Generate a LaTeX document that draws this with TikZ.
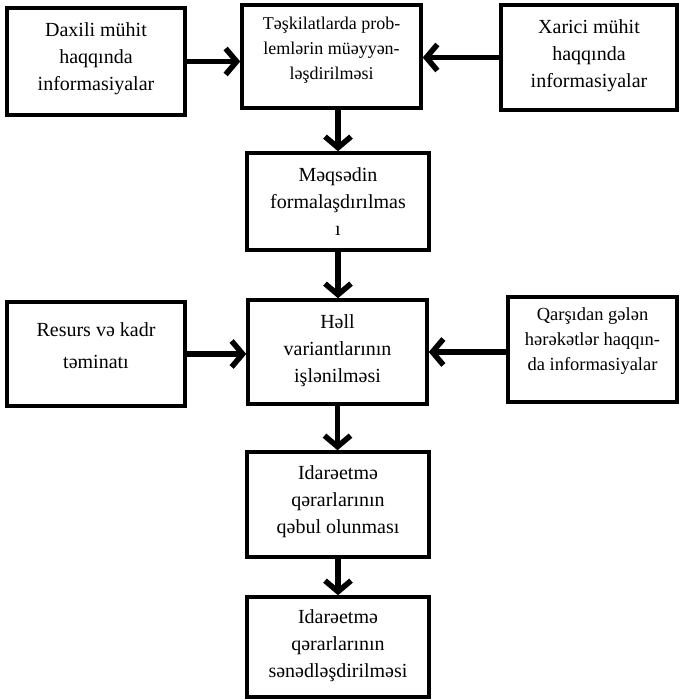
\documentclass[tikz,border=0pt]{standalone}
\usepackage{fontspec}
\setmainfont{Liberation Serif}
\usetikzlibrary{arrows.meta}
\begin{document}
\begin{tikzpicture}[x=1pt,y=-1pt,
  box/.style={draw, line width=3.5pt, rectangle, inner sep=0pt},
  lbl/.style={align=center, inner sep=0pt, font=\fontsize{20}{27}\selectfont},
  flow/.style={line width=5.5pt, -{Straight Barb[length=11pt,width=26pt]}}]
\useasboundingbox (0,0) rectangle (680,700);

% boxes
\node[box, minimum width=178pt, minimum height=107pt] (A) at (96,61.5) {};
\node[box, minimum width=179pt, minimum height=103pt] (B) at (331.5,56.5) {};
\node[box, minimum width=176pt, minimum height=105pt] (C) at (589,57.5) {};
\node[box, minimum width=182pt, minimum height=97pt]  (D) at (338,201.5) {};
\node[box, minimum width=178pt, minimum height=104pt] (F) at (96,354) {};
\node[box, minimum width=179pt, minimum height=104pt] (E) at (337.5,352) {};
\node[box, minimum width=169pt, minimum height=105pt] (G) at (592.5,349.5) {};
\node[box, minimum width=182pt, minimum height=105pt] (H) at (338,504.5) {};
\node[box, minimum width=182pt, minimum height=100pt] (I) at (338,647) {};

% texts
\node[lbl] (At) at (96,59) {Daxili mühit\\haqqında\\informasiyalar};
\node[lbl, font=\fontsize{18}{25}\selectfont] (Bt) at (331.5,50) {Təşkilatlarda prob-\\lemlərin müəyyən-\\ləşdirilməsi};
\node[lbl] (Ct) at (589,56) {Xarici mühit\\haqqında\\informasiyalar};
\node[lbl] (Dt) at (338,202) {Məqsədin\\formalaşdırılmas\\ı};
\node[lbl, font=\fontsize{20}{32}\selectfont] (Ft) at (96,346) {Resurs və kadr\\təminatı};
\node[lbl] (Et) at (337.5,351) {Həll\\variantlarının\\işlənilməsi};
\node[lbl, font=\fontsize{18.5}{25}\selectfont] (Gt) at (592.5,341) {Qarşıdan gələn\\hərəkətlər haqqın-\\da informasiyalar};
\node[lbl] (Ht) at (338,502) {Idarəetmə\\qərarlarının\\qəbul olunması};
\node[lbl] (It) at (338,646) {Idarəetmə\\qərarlarının\\sənədləşdirilməsi};

% connectors
\draw[flow] (A.east) -- (A.east -| B.west);
\draw[flow] (C.west) -- (C.west -| B.east);
\draw[flow] (D.north |- B.south) -- (D.north);
\draw[flow] (D.south) -- (D.south |- E.north);
\draw[flow] (F.east) -- (F.east -| E.west);
\draw[flow] (E.east -| G.west) -- (E.east);
\draw[flow] (E.south) -- (E.south |- H.north);
\draw[flow] (H.south) -- (H.south |- I.north);
\end{tikzpicture}
\end{document}
